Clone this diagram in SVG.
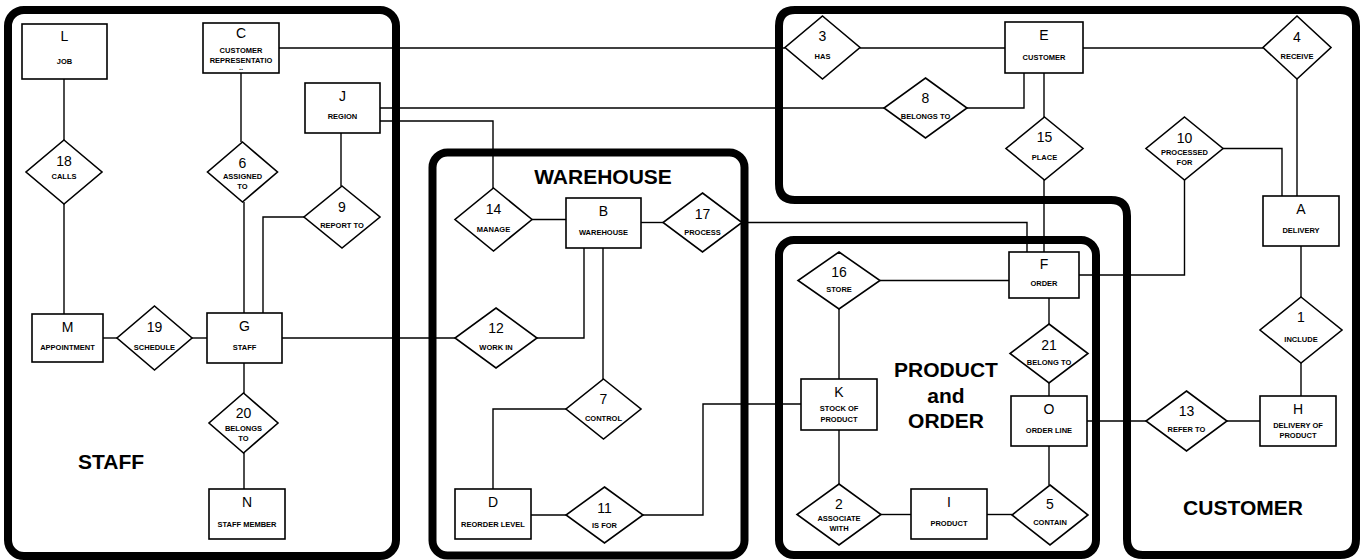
<svg xmlns="http://www.w3.org/2000/svg" width="1360" height="560" viewBox="0 0 1360 560">
  <style>
    .area { fill: none; stroke: #000; stroke-width: 8; stroke-linejoin: round; }
    .area-title { font-family: "Liberation Sans", Arial, sans-serif; font-size: 21px; font-weight: bold; fill: #000; text-anchor: middle; }
    .ent { fill: #fff; stroke: #000; stroke-width: 1.6; }
    .rel { fill: #fff; stroke: #000; stroke-width: 1.6; stroke-linejoin: miter; }
    .key { font-family: "Liberation Sans", Arial, sans-serif; font-size: 14px; fill: #000; text-anchor: middle; }
    .lbl { font-family: "Liberation Sans", Arial, sans-serif; font-size: 7.5px; font-weight: bold; fill: #000; text-anchor: middle; }
    .links polyline, .links line { fill: none; stroke: #000; stroke-width: 1.4; }
  </style>
  <rect width="1360" height="560" fill="#fff"/>

  <!-- subject areas -->
  <g id="areas">
    <rect id="area-staff" class="area" x="8" y="10" width="388" height="546" rx="16"/>
    <rect id="area-warehouse" class="area" x="432.5" y="152.5" width="312" height="403" rx="15"/>
    <rect id="area-product-order" class="area" x="779" y="240" width="317" height="315" rx="15"/>
    <path id="area-customer" class="area" d="M795,10 H1340 Q1356,10 1356,26 V539 Q1356,555 1340,555 H1143 Q1127,555 1127,539 V216 Q1127,200 1111,200 H795 Q779,200 779,184 V26 Q779,10 795,10 Z"/>
    <text class="area-title" x="111" y="469">STAFF</text>
    <text class="area-title" x="603" y="184">WAREHOUSE</text>
    <text class="area-title" x="946" y="377">PRODUCT</text>
    <text class="area-title" x="946" y="403">and</text>
    <text class="area-title" x="946" y="428">ORDER</text>
    <text class="area-title" x="1243" y="515">CUSTOMER</text>
  </g>

  <!-- connectors -->
  <g id="connectors" class="links">
    <line x1="64" y1="79" x2="64" y2="140"/>
    <line x1="64" y1="204" x2="64" y2="314"/>
    <line x1="241" y1="73" x2="241" y2="142"/>
    <line x1="244" y1="202" x2="244" y2="313"/>
    <polyline points="263,313 263,217 304,217"/>
    <line x1="341" y1="133" x2="341" y2="186"/>
    <line x1="279" y1="48" x2="785" y2="48"/>
    <line x1="380" y1="108" x2="884" y2="108"/>
    <polyline points="380,121 493,121 493,188"/>
    <line x1="103" y1="338" x2="117" y2="338"/>
    <line x1="192" y1="338" x2="207" y2="338"/>
    <line x1="244" y1="363" x2="244" y2="393"/>
    <line x1="244" y1="453" x2="244" y2="489"/>
    <line x1="282" y1="338" x2="455" y2="338"/>
    <line x1="532" y1="219.5" x2="566" y2="219.5"/>
    <line x1="641" y1="222.5" x2="663" y2="222.5"/>
    <polyline points="742,222.5 1027,222.5 1027,252"/>
    <polyline points="584,248 584,338 537,338"/>
    <line x1="603" y1="248" x2="603" y2="379"/>
    <polyline points="566,409 493,409 493,489"/>
    <line x1="531" y1="515" x2="566" y2="515"/>
    <polyline points="643,515 703,515 703,404 801,404"/>
    <line x1="860" y1="48" x2="1005" y2="48"/>
    <line x1="1083" y1="48" x2="1263" y2="48"/>
    <line x1="1297" y1="79" x2="1297" y2="196"/>
    <polyline points="967,108 1024,108 1024,73"/>
    <line x1="1044" y1="73" x2="1044" y2="117"/>
    <line x1="1044" y1="180" x2="1044" y2="252"/>
    <polyline points="1223,148.5 1282,148.5 1282,196"/>
    <polyline points="1184.5,180 1184.5,275 1079,275"/>
    <line x1="1301" y1="246" x2="1301" y2="297"/>
    <line x1="1301" y1="363" x2="1301" y2="396"/>
    <line x1="1227" y1="421" x2="1260" y2="421"/>
    <line x1="1087" y1="421" x2="1146" y2="421"/>
    <line x1="880" y1="280.5" x2="1009" y2="280.5"/>
    <line x1="839" y1="309" x2="839" y2="379"/>
    <line x1="839" y1="430" x2="839" y2="484"/>
    <line x1="881" y1="514.5" x2="911" y2="514.5"/>
    <line x1="987" y1="514.5" x2="1012" y2="514.5"/>
    <line x1="1049" y1="485" x2="1049" y2="446"/>
    <line x1="1049" y1="298" x2="1049" y2="324"/>
    <line x1="1049" y1="383" x2="1049" y2="396"/>
  </g>

  <!-- entities -->
  <g id="entity-L"><rect class="ent" x="22" y="24" width="85" height="55"/><text class="key" x="64.5" y="41">L</text><text class="lbl" x="64.5" y="63.5">JOB</text></g>
  <g id="entity-C"><rect class="ent" x="203" y="23" width="76" height="50"/><text class="key" x="241" y="38">C</text><text class="lbl" x="241" y="53">CUSTOMER</text><text class="lbl" x="241" y="63">REPRESENTATIO</text><text class="lbl" x="241" y="70">..</text></g>
  <g id="entity-J"><rect class="ent" x="305" y="83" width="75" height="50"/><text class="key" x="342.5" y="101">J</text><text class="lbl" x="342.5" y="119">REGION</text></g>
  <g id="entity-M"><rect class="ent" x="32" y="314" width="71" height="48"/><text class="key" x="67.5" y="332">M</text><text class="lbl" x="67.5" y="350">APPOINTMENT</text></g>
  <g id="entity-G"><rect class="ent" x="207" y="313" width="75" height="50"/><text class="key" x="244.5" y="331">G</text><text class="lbl" x="244.5" y="350">STAFF</text></g>
  <g id="entity-N"><rect class="ent" x="209" y="489" width="76" height="50"/><text class="key" x="247" y="507">N</text><text class="lbl" x="247" y="527">STAFF MEMBER</text></g>
  <g id="entity-B"><rect class="ent" x="566" y="198" width="75" height="50"/><text class="key" x="603.5" y="216">B</text><text class="lbl" x="603.5" y="235">WAREHOUSE</text></g>
  <g id="entity-D"><rect class="ent" x="455" y="489" width="76" height="50"/><text class="key" x="493" y="507">D</text><text class="lbl" x="493" y="527">REORDER LEVEL</text></g>
  <g id="entity-E"><rect class="ent" x="1005" y="22" width="78" height="51"/><text class="key" x="1044" y="40">E</text><text class="lbl" x="1044" y="60">CUSTOMER</text></g>
  <g id="entity-A"><rect class="ent" x="1263" y="196" width="76" height="50"/><text class="key" x="1301" y="214">A</text><text class="lbl" x="1301" y="233">DELIVERY</text></g>
  <g id="entity-H"><rect class="ent" x="1260" y="396" width="76" height="50"/><text class="key" x="1298" y="414">H</text><text class="lbl" x="1298" y="428">DELIVERY OF</text><text class="lbl" x="1298" y="438">PRODUCT</text></g>
  <g id="entity-F"><rect class="ent" x="1009" y="252" width="70" height="46"/><text class="key" x="1044" y="269">F</text><text class="lbl" x="1044" y="286">ORDER</text></g>
  <g id="entity-K"><rect class="ent" x="801" y="379" width="76" height="51"/><text class="key" x="839" y="397">K</text><text class="lbl" x="839" y="411">STOCK OF</text><text class="lbl" x="839" y="422">PRODUCT</text></g>
  <g id="entity-I"><rect class="ent" x="911" y="489" width="76" height="50"/><text class="key" x="949" y="507">I</text><text class="lbl" x="949" y="526">PRODUCT</text></g>
  <g id="entity-O"><rect class="ent" x="1011" y="396" width="76" height="50"/><text class="key" x="1049" y="414">O</text><text class="lbl" x="1049" y="433">ORDER LINE</text></g>

  <!-- relationships -->
  <g id="rel-18"><polygon class="rel" points="64,140 102,172 64,204 26,172"/><text class="key" x="64" y="166">18</text><text class="lbl" x="64" y="178.5">CALLS</text></g>
  <g id="rel-6"><polygon class="rel" points="242.5,142 277.5,172 242.5,202 207.5,172"/><text class="key" x="242.5" y="168">6</text><text class="lbl" x="242.5" y="179">ASSIGNED</text><text class="lbl" x="242.5" y="189">TO</text></g>
  <g id="rel-9"><polygon class="rel" points="342,186 380,217 342,248 304,217"/><text class="key" x="342" y="212">9</text><text class="lbl" x="342" y="228">REPORT TO</text></g>
  <g id="rel-19"><polygon class="rel" points="154.5,306 192,338 154.5,370 117,338"/><text class="key" x="154.5" y="332">19</text><text class="lbl" x="154.5" y="350">SCHEDULE</text></g>
  <g id="rel-20"><polygon class="rel" points="243.5,393 278,423 243.5,453 209,423"/><text class="key" x="243.5" y="418">20</text><text class="lbl" x="243.5" y="431">BELONGS</text><text class="lbl" x="243.5" y="441">TO</text></g>
  <g id="rel-14"><polygon class="rel" points="493.5,188 532,219.5 493.5,251 455,219.5"/><text class="key" x="493.5" y="213.5">14</text><text class="lbl" x="493.5" y="232">MANAGE</text></g>
  <g id="rel-17"><polygon class="rel" points="702.5,193 742,222.5 702.5,252 663,222.5"/><text class="key" x="702.5" y="219">17</text><text class="lbl" x="702.5" y="234.5">PROCESS</text></g>
  <g id="rel-12"><polygon class="rel" points="496,308 537,338 496,368 455,338"/><text class="key" x="496" y="333">12</text><text class="lbl" x="496" y="349.5">WORK IN</text></g>
  <g id="rel-7"><polygon class="rel" points="603.5,379 641,409 603.5,439 566,409"/><text class="key" x="603.5" y="404">7</text><text class="lbl" x="603.5" y="421">CONTROL</text></g>
  <g id="rel-11"><polygon class="rel" points="604.5,487 643,515 604.5,543 566,515"/><text class="key" x="604.5" y="513">11</text><text class="lbl" x="604.5" y="528">IS FOR</text></g>
  <g id="rel-3"><polygon class="rel" points="822.5,16 860,47.5 822.5,79 785,47.5"/><text class="key" x="822.5" y="41">3</text><text class="lbl" x="822.5" y="58.5">HAS</text></g>
  <g id="rel-8"><polygon class="rel" points="925.5,78 967,108 925.5,138 884,108"/><text class="key" x="925.5" y="103">8</text><text class="lbl" x="925.5" y="119">BELONGS TO</text></g>
  <g id="rel-15"><polygon class="rel" points="1044.5,117 1083,148.5 1044.5,180 1006,148.5"/><text class="key" x="1044.5" y="142">15</text><text class="lbl" x="1044.5" y="159.5">PLACE</text></g>
  <g id="rel-4"><polygon class="rel" points="1297,16 1331,47.5 1297,79 1263,47.5"/><text class="key" x="1297" y="42">4</text><text class="lbl" x="1297" y="59">RECEIVE</text></g>
  <g id="rel-10"><polygon class="rel" points="1184.5,117 1223,148.5 1184.5,180 1146,148.5"/><text class="key" x="1184.5" y="143">10</text><text class="lbl" x="1184.5" y="154.5">PROCESSED</text><text class="lbl" x="1184.5" y="164.5">FOR</text></g>
  <g id="rel-1"><polygon class="rel" points="1301,297 1342,330 1301,363 1260,330"/><text class="key" x="1301" y="322">1</text><text class="lbl" x="1301" y="342">INCLUDE</text></g>
  <g id="rel-13"><polygon class="rel" points="1186.5,391 1227,421 1186.5,451 1146,421"/><text class="key" x="1186.5" y="416">13</text><text class="lbl" x="1186.5" y="432">REFER TO</text></g>
  <g id="rel-16"><polygon class="rel" points="839,252 880,280.5 839,309 798,280.5"/><text class="key" x="839" y="277">16</text><text class="lbl" x="839" y="292">STORE</text></g>
  <g id="rel-21"><polygon class="rel" points="1049,324 1088,353.5 1049,383 1010,353.5"/><text class="key" x="1049" y="350">21</text><text class="lbl" x="1049" y="365">BELONG TO</text></g>
  <g id="rel-2"><polygon class="rel" points="839,484 881,514.5 839,545 797,514.5"/><text class="key" x="839" y="509">2</text><text class="lbl" x="839" y="521">ASSOCIATE</text><text class="lbl" x="839" y="531">WITH</text></g>
  <g id="rel-5"><polygon class="rel" points="1050,485 1088,515 1050,545 1012,515"/><text class="key" x="1050" y="509">5</text><text class="lbl" x="1050" y="525">CONTAIN</text></g>
</svg>
